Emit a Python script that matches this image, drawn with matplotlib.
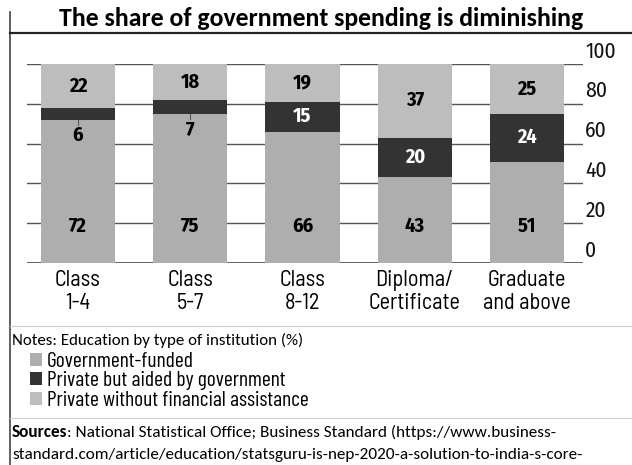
import matplotlib
matplotlib.use("Agg")
import matplotlib.pyplot as plt
from matplotlib.lines import Line2D

categories = ["Class\n1-4", "Class\n5-7", "Class\n8-12", "Diploma/\nCertificate", "Graduate\nand above"]
govt_funded = [72, 75, 66, 43, 51]
private_aided = [6, 7, 15, 20, 24]
private_unaided = [22, 18, 19, 37, 25]
series_names = ["Government-funded", "Private but aided by government", "Private without financial assistance"]
yticks = [0, 20, 40, 60, 80, 100]

SEMI = ["Barlow Semi Condensed", "DejaVu Sans"]
COND = ["Barlow Condensed", "DejaVu Sans"]
NUMF = ["Fira Sans Condensed", "DejaVu Sans"]
BODY = ["Carlito", "DejaVu Sans"]

C_GOV = "#aeaeae"
C_AID = "#333333"
C_PRI = "#bdbdbd"

W, H = 632, 465
fig = plt.figure(figsize=(W / 100, H / 100), dpi=100)
fig.patch.set_facecolor("white")

def fx(px):
    return px / W

def fy(py):
    return 1 - py / H

ax = fig.add_axes([fx(27), fy(263), fx(583) - fx(27), fy(64) - fy(263)])
ax.set_xlim(-0.454, 4.499)
ax.set_ylim(0, 100)
x = list(range(len(categories)))
bw = 0.66

for v in yticks:
    ax.axhline(v, color="#555555", lw=1.3 if v == 0 else 1.0, zorder=0)

b1 = ax.bar(x, govt_funded, bw, color=C_GOV, zorder=2)
b2 = ax.bar(x, private_aided, bw, bottom=govt_funded, color=C_AID, zorder=2)
bottom3 = [a + b for a, b in zip(govt_funded, private_aided)]
b3 = ax.bar(x, private_unaided, bw, bottom=bottom3, color=C_PRI, zorder=2)

num_kw = dict(family=NUMF, fontsize=14.5, fontweight="bold", ha="center", va="center", zorder=5)
for i in x:
    ax.text(i, 18.5, f"{govt_funded[i]}", color="black", **num_kw)
    ax.text(i, bottom3[i] + private_unaided[i] / 2, f"{private_unaided[i]}", color="black", **num_kw)
    if private_aided[i] >= 10:
        ax.text(i, govt_funded[i] + private_aided[i] / 2, f"{private_aided[i]}", color="white", **num_kw)
    else:
        ax.plot([i, i], [govt_funded[i], govt_funded[i] - 2.5], color="#555555", lw=0.8, zorder=4)
        ax.text(i, govt_funded[i] - 8, f"{private_aided[i]}", color="black", **num_kw)

for s in ax.spines.values():
    s.set_visible(False)
ax.set_yticks([])
ax.set_xticks(x)
ax.set_xticklabels(categories, family=SEMI, fontsize=16, linespacing=1.1)
ax.tick_params(axis="x", length=0, pad=5)

for v in yticks:
    ax.text(1.004, v + 1, f"{v}", transform=ax.get_yaxis_transform(), family=NUMF, fontsize=15.5,
            ha="left", va="bottom", color="#111111")

# frame and separators
fig.add_artist(Line2D([fx(10), fx(10)], [fy(12), fy(465)], color="#444444", lw=1.2))
fig.add_artist(Line2D([fx(10), fx(632)], [fy(33), fy(33)], color="#222222", lw=1.6))
fig.add_artist(Line2D([fx(10), fx(632)], [fy(326), fy(326)], color="#cfcfcf", lw=0.8))
fig.add_artist(Line2D([fx(10), fx(632)], [fy(418), fy(418)], color="#cfcfcf", lw=0.8))

fig.text(fx(321), fy(18), "The share of government spending is diminishing", family=BODY,
         fontweight="bold", fontsize=18.5, ha="center", va="center")

fig.text(fx(12), fy(340), "Notes: Education by type of institution (%)", family=BODY,
         fontsize=12.2, ha="left", va="center")

leg = fig.legend([b1, b2, b3], series_names, loc="upper left",
                 bbox_to_anchor=(fx(30), fy(352)), frameon=False,
                 prop={"family": COND, "size": 15.5}, handlelength=0.55, handleheight=0.55,
                 handletextpad=0.25, labelspacing=0.02, borderaxespad=0, borderpad=0)

t = fig.text(fx(12), fy(432), "Sources", family=BODY, fontweight="bold", fontsize=12.3,
             ha="left", va="center")
fig.canvas.draw()
bb = t.get_window_extent()
fig.text(bb.x1 / W, fy(432), ": National Statistical Office; Business Standard (https://www.business-",
         family=BODY, fontsize=12.3, ha="left", va="center")
fig.text(fx(12), fy(455), "standard.com/article/education/statsguru-is-nep-2020-a-solution-to-india-s-core-",
         family=BODY, fontsize=12.3, ha="left", va="center")

fig.savefig("out.png", dpi=100, facecolor="white")
